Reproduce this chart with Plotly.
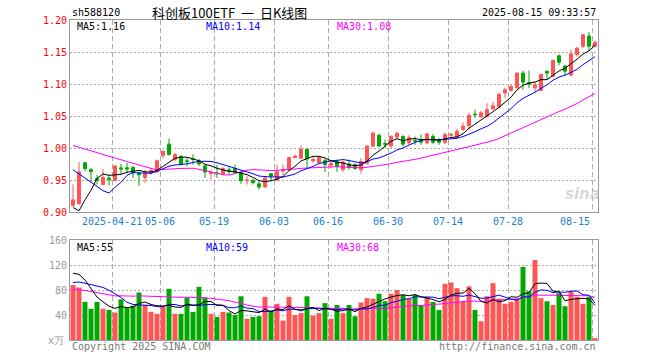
import math
import numpy as np
import plotly.graph_objects as go

# ---------------- data ----------------
opens = [0.910, 0.913, 0.977, 0.966, 0.952, 0.943, 0.953, 0.949, 0.969, 0.969,
         0.970, 0.961, 0.954, 0.961, 0.9625, 0.988, 1.006, 0.982, 0.987, 0.980,
         0.983, 0.980, 0.972, 0.960, 0.961, 0.959, 0.966, 0.968, 0.9625, 0.949,
         0.949, 0.944, 0.939, 0.960, 0.950, 0.964, 0.966, 0.985, 0.984, 0.998,
         0.980, 0.977, 0.981, 0.973, 0.979, 0.966, 0.975, 0.974, 0.966, 0.976,
         1.003, 1.020, 1.007, 1.003, 1.017, 1.018, 1.008, 1.012, 1.013, 1.008,
         1.018, 1.013, 1.009, 1.020, 1.017, 1.029, 1.035, 1.053, 1.049, 1.049,
         1.061, 1.064, 1.086, 1.090, 1.094, 1.117, 1.102, 1.094, 1.090, 1.120,
         1.112, 1.144, 1.128, 1.114, 1.146, 1.159, 1.175, 1.159]
highs = [0.943, 0.978, 0.978, 0.969, 0.958, 0.967, 0.958, 0.973, 0.975, 0.977,
         0.971, 0.963, 0.966, 0.969, 0.982, 0.995, 1.015, 0.992, 0.988, 0.985,
         0.990, 0.983, 0.974, 0.966, 0.974, 0.970, 0.970, 0.974, 0.9635, 0.956,
         0.952, 0.948, 0.956, 0.961, 0.974, 0.974, 0.985, 0.990, 1.004, 0.999,
         0.987, 0.987, 0.982, 0.980, 0.982, 0.980, 0.982, 0.976, 0.984, 1.004,
         1.026, 1.022, 1.013, 1.020, 1.026, 1.020, 1.020, 1.018, 1.021, 1.024,
         1.022, 1.016, 1.024, 1.023, 1.030, 1.040, 1.055, 1.060, 1.058, 1.070,
         1.072, 1.086, 1.094, 1.099, 1.118, 1.121, 1.121, 1.104, 1.116, 1.1205,
         1.138, 1.146, 1.130, 1.154, 1.158, 1.178, 1.181, 1.168]
lows = [0.908, 0.911, 0.9635, 0.947, 0.943, 0.942, 0.942, 0.948, 0.959, 0.961,
        0.953, 0.941, 0.945, 0.958, 0.962, 0.984, 0.988, 0.979, 0.973, 0.971,
        0.974, 0.972, 0.953, 0.951, 0.953, 0.958, 0.958, 0.959, 0.944, 0.943,
        0.943, 0.935, 0.938, 0.949, 0.948, 0.958, 0.965, 0.984, 0.983, 0.969,
        0.977, 0.975, 0.9625, 0.968, 0.9625, 0.963, 0.966, 0.966, 0.960, 0.974,
        1.001, 1.002, 1.000, 1.000, 1.015, 1.002, 1.005, 1.005, 1.005, 1.006,
        1.006, 1.005, 1.006, 1.018, 1.016, 1.027, 1.029, 1.047, 1.047, 1.048,
        1.060, 1.0625, 1.078, 1.088, 1.093, 1.091, 1.094, 1.0875, 1.089, 1.107,
        1.111, 1.129, 1.112, 1.112, 1.143, 1.156, 1.152, 1.157]
closes = [0.919, 0.9625, 0.968, 0.963, 0.950, 0.954, 0.951, 0.972, 0.967, 0.967,
          0.961, 0.958, 0.961, 0.965, 0.980, 0.995, 0.990, 0.990, 0.974, 0.979,
          0.982, 0.975, 0.9625, 0.962, 0.960, 0.968, 0.964, 0.961, 0.949, 0.950,
          0.946, 0.939, 0.953, 0.956, 0.963, 0.966, 0.985, 0.987, 0.998, 0.983,
          0.982, 0.985, 0.974, 0.976, 0.971, 0.978, 0.970, 0.968, 0.979, 1.003,
          1.023, 1.003, 1.006, 1.018, 1.023, 1.006, 1.016, 1.011, 1.009, 1.022,
          1.009, 1.009, 1.021, 1.0215, 1.026, 1.034, 1.051, 1.052, 1.055, 1.060,
          1.066, 1.084, 1.091, 1.096, 1.117, 1.103, 1.100, 1.099, 1.115, 1.117,
          1.137, 1.134, 1.120, 1.147, 1.156, 1.177, 1.159, 1.165]
volumes = [88, 84, 61, 50, 61, 50, 48, 44, 65, 52,
           55, 76, 56, 45, 42, 53, 82, 42, 42, 68,
           45, 85, 68, 42, 37, 45, 44, 40, 70, 34,
           37, 38, 69, 47, 58, 31, 69, 40, 43, 70,
           39, 43, 59, 34, 56, 43, 56, 38, 60, 67,
           66, 74, 62, 74, 80, 72, 66, 72, 56, 69,
           61, 48, 90, 92, 83, 62, 86, 48, 30, 70,
           91, 66, 58, 61, 66, 117, 78, 128, 67, 62,
           56, 75, 54, 78, 69, 58, 69, 3]
# closes / volumes of the sessions before the first visible day (feed the moving averages)
prior_closes = [1.040, 1.045, 1.050, 1.046, 1.042, 1.038, 1.044, 1.048, 1.052, 1.047,
                1.041, 1.039, 1.043, 1.045, 0.980, 0.968, 0.965, 0.972, 0.975, 0.980,
                1.025, 1.030, 1.028, 1.020, 1.022, 0.9875, 0.883, 0.888, 0.8575]
prior_volumes = [110, 105, 100, 112, 98, 105, 100, 60, 65, 58,
                 62, 70, 55, 60, 63, 66, 58, 61, 59, 61,
                 76, 80, 75, 78, 76, 94, 106, 116, 131]
tick_index = [7, 15, 24, 34, 43, 53, 63, 73, 87]
tick_labels = ["2025-04-21", "05-06", "05-19", "06-03", "06-16", "06-30", "07-14", "07-28", "08-15"]
price_ticks = [0.90, 0.95, 1.00, 1.05, 1.10, 1.15, 1.20]
volume_ticks = [40, 80, 120, 160]

# ---------------- helpers ----------------
n = len(closes)
xs = list(range(n))


def moving_average(prior, values, k):
    allv = list(prior) + list(values)
    off = len(prior)
    return [float(np.mean(allv[off + i - k + 1: off + i + 1])) for i in range(n)]


ma5 = moving_average(prior_closes, closes, 5)
ma10 = moving_average(prior_closes, closes, 10)
ma30 = moving_average(prior_closes, closes, 30)
vma5 = moving_average(prior_volumes, volumes, 5)
vma10 = moving_average(prior_volumes, volumes, 10)
vma30 = moving_average(prior_volumes, volumes, 30)

RED = "#ff5555"
GREEN = "#00a800"
L, R, T, B = 70, 598, 20, 340
W, H = 660, 360


def px(xp):
    return (xp - L) / (R - L)


def py(yp):
    return (B - yp) / (B - T)


def trunc(v, d):
    f = 10 ** d
    return math.floor(v * f + 1e-9) / f


MONO = "DejaVu Sans Mono, Liberation Mono, monospace"
CJK = "Noto Sans CJK SC, sans-serif"

fig = go.Figure()
fig.add_trace(go.Candlestick(
    x=xs, open=opens, high=highs, low=lows, close=closes,
    increasing=dict(line=dict(color=RED, width=1), fillcolor=RED),
    decreasing=dict(line=dict(color=GREEN, width=1), fillcolor=GREEN),
    whiskerwidth=0, xaxis="x", yaxis="y", showlegend=False, hoverinfo="skip"))
for arr, col in [(ma30, "#ff00ff"), (ma10, "#0000ff"), (ma5, "#000000")]:
    fig.add_trace(go.Scatter(x=xs, y=arr, mode="lines", line=dict(color=col, width=1),
                             xaxis="x", yaxis="y", showlegend=False, hoverinfo="skip"))

vol_colors = [RED if c >= o else GREEN for o, c in zip(opens, closes)]
fig.add_trace(go.Bar(x=xs, y=volumes, marker=dict(color=vol_colors, line=dict(width=0)),
                     width=0.83, xaxis="x2", yaxis="y2", showlegend=False, hoverinfo="skip"))
for arr, col in [(vma30, "#ff00ff"), (vma10, "#0000ff"), (vma5, "#000000")]:
    fig.add_trace(go.Scatter(x=xs, y=arr, mode="lines", line=dict(color=col, width=1),
                             xaxis="x2", yaxis="y2", showlegend=False, hoverinfo="skip"))

grid_x = [i - 0.5 for i in tick_index]
common_x = dict(range=[-0.5, n - 0.5], tickvals=grid_x, showticklabels=False, ticks="",
                showgrid=True, gridcolor="#aaaaaa", griddash="5px,3px", gridwidth=1,
                showline=True, mirror=True, linecolor="#999999", linewidth=1, zeroline=False,
                fixedrange=True)
fig.update_layout(
    width=W, height=H, margin=dict(l=L, r=W - R, t=T, b=H - B),
    paper_bgcolor="white", plot_bgcolor="white",
    xaxis=dict(domain=[0, 1], anchor="y", rangeslider=dict(visible=False), **common_x),
    xaxis2=dict(domain=[0, 1], anchor="y2", matches="x", **common_x),
    yaxis=dict(domain=[py(212), 1], range=[0.90, 1.20], tickvals=price_ticks,
               ticktext=["%.2f" % v for v in price_ticks], ticks="",
               tickfont=dict(family=MONO, size=10, color="#ff0000"),
               showgrid=True, gridcolor="#aaaaaa", griddash="2px,2px",
               showline=True, mirror=True, linecolor="#999999", zeroline=False),
    yaxis2=dict(domain=[0, py(240)], range=[0, 160], tickvals=volume_ticks,
                ticktext=[str(v) for v in volume_ticks], ticks="",
                tickfont=dict(family=MONO, size=10, color="#999999"),
                showgrid=True, gridcolor="#aaaaaa", griddash="2px,2px",
                showline=True, mirror=True, linecolor="#999999", zeroline=False),
    bargap=0.17, boxgap=0.3,
    font=dict(family=MONO, size=10, color="#000000"),
)

ann = []


def text(x, y, s, color="#000000", anchor="left", size=10, family=MONO):
    ann.append(dict(x=px(x), y=py(y), xref="paper", yref="paper", text=s, showarrow=False,
                    xanchor=anchor, yanchor="middle",
                    font=dict(family=family, size=size, color=color)))


text(70, 13, "sh588120")
text(150, 13, "科创板100ETF&nbsp;&nbsp;一&nbsp;&nbsp;日K线图", anchor="left", size=13, family=CJK)
text(598, 12, "2025-08-15 09:33:57", anchor="right")
text(75, 26, "MA5:%.2f" % trunc(ma5[-1], 2))
text(204, 26, "MA10:%.2f" % trunc(ma10[-1], 2), color="#0000ff")
text(335, 26, "MA30:%.2f" % trunc(ma30[-1], 2), color="#ff00ff")
text(75, 247, "MA5:%d" % int(vma5[-1]))
text(204, 247, "MA10:%d" % int(vma10[-1]), color="#0000ff")
text(335, 247, "MA30:%d" % int(vma30[-1]), color="#ff00ff")
text(66, 340, "x万", color="#999999", anchor="right")
text(70, 346, "Copyright 2025 SINA.COM", color="#777777")
text(598, 346, "http://finance.sina.com.cn", color="#777777", anchor="right")
for k, (i, lab) in enumerate(zip(tick_index, tick_labels)):
    anchor = "right" if k == len(tick_index) - 1 else "center"
    ann.append(dict(x=i - 0.5, y=py(221), xref="x", yref="paper", text=lab, showarrow=False,
                    xanchor=anchor, yanchor="middle",
                    font=dict(family=MONO, size=10, color="#1a7fd0")))
# faint watermark
ann.append(dict(x=px(582), y=py(194), xref="paper", yref="paper", text="<b><i>sina</i></b>",
                showarrow=False, xanchor="center", yanchor="middle",
                font=dict(family="DejaVu Sans", size=15, color="rgba(190,190,190,0.6)")))
fig.update_layout(annotations=ann)

fig.write_html("out.html", config={"displayModeBar": False, "staticPlot": True},
               post_script="document.body.style.margin='0';document.body.style.overflow='hidden';")
